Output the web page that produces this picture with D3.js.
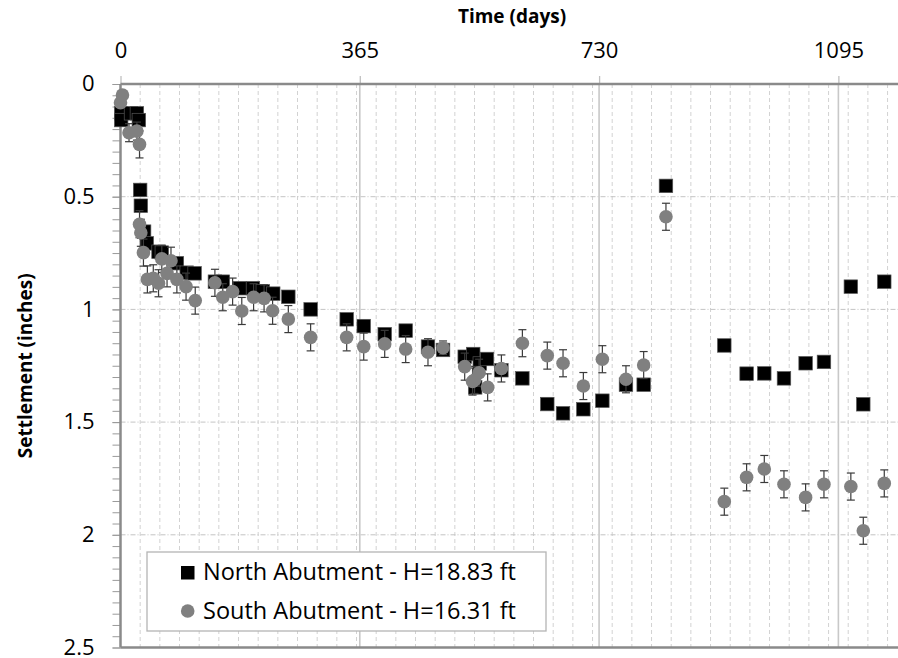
<!DOCTYPE html>
<html>
<head>
<meta charset="utf-8">
<script src="https://cdn.jsdelivr.net/npm/d3@7"></script>
<style>
  body { margin:0; background:#fff; }
  svg { display:block; font-family:"Open Sans", "Noto Sans", sans-serif; }
</style>
</head>
<body>
<div id="chart"></div>
<script>
// North abutment (squares)
const northDays   = [1, 1, 16, 25, 28, 30, 31, 36, 40, 58, 63, 86, 101, 113, 144, 156, 182, 202, 217, 233, 256, 290,
                     345, 371, 403, 435, 469, 492, 525, 538, 541, 548, 559, 581, 613, 651, 675, 706, 735, 771, 798, 832,
                     921, 955, 982, 1012, 1045, 1073, 1114, 1133, 1165];
const northSettle = [0.13, 0.16, 0.13, 0.13, 0.16, 0.47, 0.54, 0.655, 0.707, 0.744, 0.748, 0.795, 0.837, 0.84, 0.877, 0.877, 0.906, 0.906, 0.92, 0.93, 0.944, 1.0,
                     1.044, 1.074, 1.11, 1.094, 1.165, 1.18, 1.21, 1.198, 1.346, 1.24, 1.22, 1.27, 1.306, 1.42, 1.461, 1.443, 1.405, 1.334, 1.334, 0.452,
                     1.16, 1.285, 1.284, 1.306, 1.239, 1.233, 0.899, 1.421, 0.877];

// South abutment (circles) with error bar half-lengths
const southDays   = [0, 3, 13, 25, 29, 29, 31, 35, 41, 50, 58, 63, 71, 77, 86, 100, 114, 144, 156, 171, 185, 203, 219, 232, 256, 290,
                     345, 371, 403, 435, 469, 492, 525, 537, 540, 547, 560, 581, 613, 651, 675, 706, 735, 771, 798, 832,
                     921, 955, 982, 1012, 1045, 1073, 1114, 1133, 1165];
const southSettle = [0.083, 0.049, 0.216, 0.209, 0.268, 0.622, 0.66, 0.748, 0.867, 0.862, 0.884, 0.776, 0.84, 0.784, 0.867, 0.899, 0.961, 0.882, 0.946, 0.921, 1.007, 0.946, 0.951, 1.006, 1.043, 1.124,
                     1.124, 1.165, 1.153, 1.176, 1.19, 1.17, 1.254, 1.32, 1.313, 1.281, 1.346, 1.262, 1.15, 1.205, 1.239, 1.34, 1.221, 1.31, 1.247, 0.589,
                     1.853, 1.745, 1.708, 1.776, 1.834, 1.776, 1.786, 1.982, 1.772];
const southErr    = [0.02, 0.02, 0.04, 0.04, 0.06, 0.06, 0.06, 0.06, 0.06, 0.06, 0.06, 0.06, 0.06, 0.06, 0.06, 0.06, 0.06, 0.06, 0.06, 0.06, 0.06, 0.06, 0.06, 0.06, 0.06, 0.06,
                     0.06, 0.06, 0.06, 0.06, 0.06, 0.03, 0.06, 0.06, 0.06, 0.06, 0.06, 0.06, 0.06, 0.06, 0.06, 0.06, 0.06, 0.06, 0.06, 0.06,
                     0.06, 0.06, 0.06, 0.06, 0.06, 0.06, 0.06, 0.06, 0.06];

const xTicks = [0, 365, 730, 1095];
const yTicks = [0, 0.5, 1, 1.5, 2, 2.5];
const xTitle = "Time (days)";
const yTitle = "Settlement  (inches)";
const legendLabels = ["North Abutment - H=18.83 ft", "South Abutment - H=16.31 ft"];

const width = 898, height = 658,
      plotLeft = 120.5, plotTop = 84, plotBottom = 647.5;

const north = northDays.map((d, i) => ({ t: d, s: northSettle[i] }));
const south = southDays.map((d, i) => ({ t: d, s: southSettle[i], e: southErr[i] }));

const x = d3.scaleLinear().domain([0, 1200]).range([plotLeft, plotLeft + 1200 * 0.6556]);
const y = d3.scaleLinear().domain([0, 2.5]).range([plotTop, plotBottom]);

const svg = d3.select("#chart").append("svg").attr("width", width).attr("height", height);

// gridlines
svg.append("g").selectAll("line").data(d3.range(30, 1200, 30)).join("line")
  .attr("x1", d => x(d)).attr("x2", d => x(d)).attr("y1", plotTop).attr("y2", plotBottom)
  .attr("stroke", "#d2d2d2").attr("stroke-width", 1).attr("stroke-dasharray", "4,3");
svg.append("g").selectAll("line").data([0.5, 1, 1.5, 2]).join("line")
  .attr("x1", plotLeft).attr("x2", width).attr("y1", d => y(d)).attr("y2", d => y(d))
  .attr("stroke", "#c4c4c4").attr("stroke-width", 1).attr("stroke-dasharray", "5,2,1,2");
svg.append("g").selectAll("line").data(xTicks.slice(1)).join("line")
  .attr("x1", d => x(d)).attr("x2", d => x(d)).attr("y1", plotTop).attr("y2", plotBottom)
  .attr("stroke", "#c8c8c8").attr("stroke-width", 1.6);

// axes
let xAxis = d3.axisTop(x).tickValues(xTicks).tickSize(8).tickPadding(18).tickFormat(d3.format("d"));
let xg = svg.append("g").attr("transform", `translate(0,${plotTop})`).call(xAxis);
xg.select(".domain").remove();
xg.selectAll("line").attr("stroke", "#c0c0c0").attr("stroke-width", 1.3);
xg.selectAll("text").attr("font-size", 22).attr("fill", "#000").attr("font-family", "Open Sans");

let yMinor = d3.axisLeft(y).tickValues(d3.range(0, 2.501, 0.05)).tickSize(8).tickFormat("");
let ymg = svg.append("g").attr("transform", `translate(${plotLeft},0)`).call(yMinor);
ymg.select(".domain").remove();
ymg.selectAll("line").attr("stroke", "#9a9a9a").attr("stroke-width", 1);

let yAxis = d3.axisLeft(y).tickValues(yTicks).tickSize(8).tickPadding(18).tickFormat(d => d3.format("")(d));
let yg = svg.append("g").attr("transform", `translate(${plotLeft},0)`).call(yAxis);
yg.select(".domain").remove();
yg.selectAll("line").attr("stroke", "#9a9a9a");
yg.selectAll("text").attr("font-size", 22).attr("fill", "#000").attr("font-family", "Open Sans").attr("dy", "0.3em");

// axis lines
svg.append("line").attr("x1", plotLeft).attr("x2", width).attr("y1", plotTop).attr("y2", plotTop)
  .attr("stroke", "#8a8a8a").attr("stroke-width", 2.5);
svg.append("line").attr("x1", plotLeft).attr("x2", width).attr("y1", plotBottom).attr("y2", plotBottom)
  .attr("stroke", "#8a8a8a").attr("stroke-width", 2.5);
svg.append("line").attr("x1", plotLeft).attr("x2", plotLeft).attr("y1", plotTop).attr("y2", plotBottom)
  .attr("stroke", "#8a8a8a").attr("stroke-width", 2.5);

// north squares
const sq = 13.5;
svg.append("g").selectAll("rect").data(north).join("rect")
  .attr("x", d => x(d.t) - sq / 2).attr("y", d => y(d.s) - sq / 2)
  .attr("width", sq).attr("height", sq)
  .attr("fill", "#000").attr("stroke", "#555").attr("stroke-width", 0.7);

// south error bars
const eb = svg.append("g").attr("stroke", "#3a3a3a").attr("stroke-width", 1.2);
eb.selectAll(".v").data(south).join("line").attr("class", "v")
  .attr("x1", d => x(d.t)).attr("x2", d => x(d.t))
  .attr("y1", d => y(d.s - d.e)).attr("y2", d => y(d.s + d.e));
eb.selectAll(".c1").data(south).join("line").attr("class", "c1")
  .attr("x1", d => x(d.t) - 4).attr("x2", d => x(d.t) + 4)
  .attr("y1", d => y(d.s - d.e)).attr("y2", d => y(d.s - d.e));
eb.selectAll(".c2").data(south).join("line").attr("class", "c2")
  .attr("x1", d => x(d.t) - 4).attr("x2", d => x(d.t) + 4)
  .attr("y1", d => y(d.s + d.e)).attr("y2", d => y(d.s + d.e));

// south circles
svg.append("g").selectAll("circle").data(south).join("circle")
  .attr("cx", d => x(d.t)).attr("cy", d => y(d.s)).attr("r", 6.8)
  .attr("fill", "#808080");

// titles
svg.append("text").attr("x", 512).attr("y", 23).attr("text-anchor", "middle")
  .attr("font-size", 19).attr("font-weight", "bold").text(xTitle);
svg.append("text").attr("transform", `translate(32,${(plotTop + plotBottom) / 2}) rotate(-90)`)
  .attr("text-anchor", "middle").attr("font-size", 19).attr("font-weight", "bold").text(yTitle);

// legend
const lg = svg.append("g");
lg.append("rect").attr("x", 147).attr("y", 552).attr("width", 399).attr("height", 79)
  .attr("fill", "#fff").attr("stroke", "#b4b4b4").attr("stroke-width", 1.3);
lg.append("rect").attr("x", 181).attr("y", 566).attr("width", 13.5).attr("height", 13.5).attr("fill", "#000");
lg.append("circle").attr("cx", 187.7).attr("cy", 611).attr("r", 6.8).attr("fill", "#808080");
lg.selectAll("text").data(legendLabels).join("text")
  .attr("x", 203).attr("y", (d, i) => 580 + i * 39)
  .attr("font-size", 23.5).attr("fill", "#000").text(d => d);
</script>
</body>
</html>
